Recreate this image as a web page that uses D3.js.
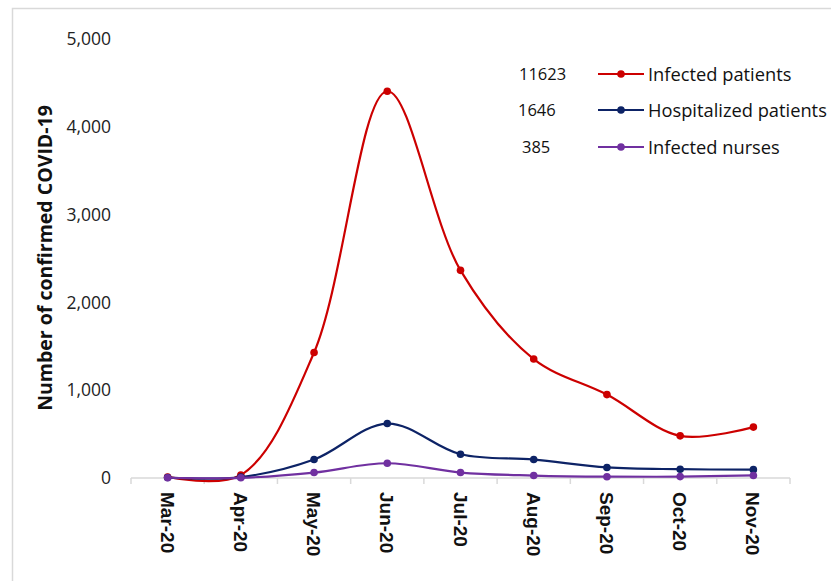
<!DOCTYPE html>
<html>
<head>
<meta charset="utf-8">
<script src="https://cdn.jsdelivr.net/npm/d3@7"></script>
<style>
  html, body { margin: 0; padding: 0; background: #fff; }
  svg { display: block; }
</style>
</head>
<body>
<svg id="chart" width="831" height="581"></svg>
<script>
const categories = ["Mar-20", "Apr-20", "May-20", "Jun-20", "Jul-20", "Aug-20", "Sep-20", "Oct-20", "Nov-20"];
const infectedPatients = [12, 35, 1430, 4405, 2365, 1355, 950, 480, 580];
const hospitalizedPatients = [5, 10, 210, 620, 270, 210, 120, 100, 95];
const infectedNurses = [3, 2, 62, 168, 62, 28, 15, 16, 29];
const seriesNames = ["Infected patients", "Hospitalized patients", "Infected nurses"];
const seriesTotals = ["11623", "1646", "385"];
const seriesColors = ["#cc0000", "#0d2366", "#7030a0"];
const yTicks = [0, 1000, 2000, 3000, 4000, 5000];
const yTitle = "Number of confirmed COVID-19";

const svg = d3.select("#chart");
const fontFam = "'Open Sans', 'Liberation Sans', sans-serif";
const boldFam = "'Liberation Sans', Arial, sans-serif";

// frame
svg.append("path")
  .attr("d", "M12.5,581 L12.5,8.5 L831,8.5")
  .attr("fill", "none").attr("stroke", "#d9d9d9").attr("stroke-width", 1.5);

const x = d3.scaleBand().domain(categories).range([131, 790]);
const y = d3.scaleLinear().domain([0, 5000]).range([478, 39]);

// y tick labels
const yAxis = d3.axisLeft(y).tickValues(yTicks).tickFormat(d3.format(",")).tickSize(0).tickPadding(0);
const yg = svg.append("g").attr("transform", "translate(111,0)").call(yAxis);
yg.select(".domain").remove();
yg.selectAll("text").attr("font-family", fontFam).attr("font-size", 17.5).attr("fill", "#222");

// x axis
const xAxis = d3.axisBottom(x).tickSize(0).tickFormat("");
const xg = svg.append("g").attr("transform", "translate(0,478)").call(xAxis);
xg.select(".domain").attr("stroke", "#d9d9d9").attr("stroke-width", 1.5).attr("d", "M131,0H790");
xg.selectAll(".tick").remove();
const boundaries = categories.map(c => x(c)).concat([x.range()[1]]);
xg.selectAll("line.sep").data(boundaries).enter().append("line")
  .attr("class", "sep")
  .attr("x1", d => d).attr("x2", d => d).attr("y1", 0).attr("y2", 6)
  .attr("stroke", "#d9d9d9").attr("stroke-width", 1.5);
xg.selectAll("text.cat").data(categories).enter().append("text")
  .attr("class", "cat")
  .attr("transform", d => `translate(${x(d) + x.bandwidth() / 2 - 7},14) rotate(90)`)
  .attr("font-family", boldFam).attr("font-size", 19).attr("font-weight", "bold")
  .attr("fill", "#111").attr("text-anchor", "start")
  .text(d => d);

// y title
svg.append("text")
  .attr("transform", "translate(52,258) rotate(-90)")
  .attr("text-anchor", "middle")
  .attr("font-family", fontFam).attr("font-size", 19.5).attr("font-weight", "bold")
  .attr("fill", "#111")
  .text(yTitle);

const seriesData = [infectedPatients, hospitalizedPatients, infectedNurses];
const cx = d => x(d) + x.bandwidth() / 2;
const line = d3.line()
  .x((d, i) => cx(categories[i]))
  .y(d => y(d))
  .curve(d3.curveCatmullRom.alpha(0.5));

seriesData.forEach((vals, si) => {
  const g = svg.append("g");
  g.append("path").datum(vals)
    .attr("d", line).attr("fill", "none")
    .attr("stroke", seriesColors[si]).attr("stroke-width", 2.2);
  g.selectAll("circle").data(vals).enter().append("circle")
    .attr("cx", (d, i) => cx(categories[i]))
    .attr("cy", d => y(d))
    .attr("r", 3.8)
    .attr("fill", seriesColors[si]);
});

// legend
const legY = [74, 110, 147];
seriesNames.forEach((name, i) => {
  const g = svg.append("g").attr("transform", `translate(0,${legY[i]})`);
  g.append("text").attr("x", [519, 518, 522][i]).attr("y", 6)
    .attr("font-family", fontFam).attr("font-size", 16.5).attr("fill", "#111")
    .text(seriesTotals[i]);
  g.append("line").attr("x1", 598).attr("x2", 644).attr("y1", 0).attr("y2", 0)
    .attr("stroke", seriesColors[i]).attr("stroke-width", 2.2);
  g.append("circle").attr("cx", 621).attr("cy", 0).attr("r", 3.8).attr("fill", seriesColors[i]);
  g.append("text").attr("x", 648).attr("y", 6.5)
    .attr("font-family", fontFam).attr("font-size", 18.3).attr("fill", "#111")
    .text(name);
});
</script>
</body>
</html>
